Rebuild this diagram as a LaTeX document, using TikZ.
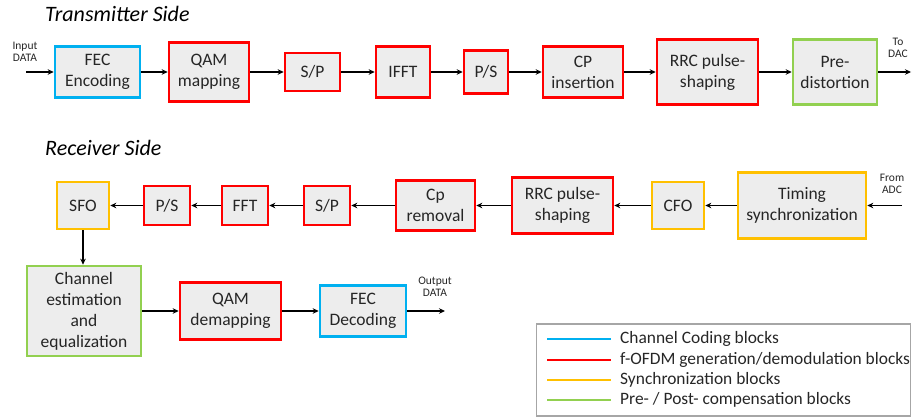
\documentclass[tikz,border=0pt]{standalone}
\usepackage{fontspec}
\setmainfont{Carlito}
\usetikzlibrary{arrows.meta}
\definecolor{cblue}{HTML}{00B0F0}
\definecolor{cred}{HTML}{FF0000}
\definecolor{cyel}{HTML}{FFC000}
\definecolor{cgreen}{HTML}{92D050}
\definecolor{boxfill}{HTML}{EDEDED}
\definecolor{txt}{HTML}{262626}
\tikzset{
  blk/.style={draw, line width=2.6pt, fill=boxfill, align=center, inner sep=0pt,
    font=\fontsize{17.5}{21}\selectfont, text=txt},
  bluebox/.style={blk, draw=cblue},
  redbox/.style={blk, draw=cred},
  yelbox/.style={blk, draw=cyel},
  greenbox/.style={blk, draw=cgreen},
  sz/.style 2 args={minimum width=#1pt, minimum height=#2pt},
  flow/.style={-{Stealth[length=6pt,width=5.5pt]}, line width=1.6pt, black},
  small/.style={font=\fontsize{11.5}{12.5}\selectfont, align=center, text=txt, inner sep=0pt},
  title/.style={font=\fontsize{22}{24}\selectfont\itshape, anchor=west, inner sep=0pt, text=black},
  legtext/.style={font=\fontsize{17.4}{20}\selectfont, anchor=west, inner sep=0pt, text=txt},
  legline/.style={line width=2.8pt}
}
\begin{document}
\begin{tikzpicture}[x=1pt,y=-1pt]
\useasboundingbox (0,0) rectangle (912,417);
% titles
\node[title] (ttx) at (45,14) {Transmitter Side};
\node[title] (trx) at (45,148) {Receiver Side};
% transmitter
\node[bluebox, sz={85}{51}] (fec) at (97.5,72) {FEC\\Encoding};
\node[redbox, sz={80}{59}] (qam) at (209,72) {QAM\\mapping};
\node[redbox, sz={55}{38}] (sp) at (312.5,72) {S/P};
\node[redbox, sz={54}{51}] (ifft) at (403,72) {IFFT};
\node[redbox, sz={44}{43}] (ps) at (486,72) {P/S};
\node[redbox, sz={80}{51}] (cp) at (583,72) {CP\\insertion};
\node[redbox, sz={101}{65}] (rrc) at (707.5,72) {RRC pulse-\\shaping};
\node[greenbox, sz={84}{65}] (pre) at (835,72) {Pre-\\distortion};
\coordinate (tin) at (26,72);
\coordinate (tout) at (911,72);
\node[small] (lin) at (25,52) {Input\\DATA};
\node[small] (lout) at (898,48) {To\\DAC};
\draw[flow] (tin) -- (fec);
\draw[flow] (fec) -- (qam);
\draw[flow] (qam) -- (sp);
\draw[flow] (sp) -- (ifft);
\draw[flow] (ifft) -- (ps);
\draw[flow] (ps) -- (cp);
\draw[flow] (cp) -- (rrc);
\draw[flow] (rrc) -- (pre);
\draw[flow] (pre) -- (tout);
% receiver
\node[yelbox, sz={52}{47}] (sfo) at (83,205.5) {SFO};
\node[redbox, sz={46}{39}] (ps2) at (167,205.5) {P/S};
\node[redbox, sz={46}{39}] (fft) at (245,205.5) {FFT};
\node[redbox, sz={46}{39}] (sp2) at (327,205.5) {S/P};
\node[redbox, sz={79}{50}] (cprem) at (435.5,205.5) {Cp\\removal};
\node[redbox, sz={101}{56}] (rrc2) at (562.5,205.5) {RRC pulse-\\shaping};
\node[yelbox, sz={52}{47}] (cfo) at (678,205.5) {CFO};
\node[yelbox, sz={128}{66}] (tim) at (802,205.5) {Timing\\synchronization};
\coordinate (rin) at (902,205.5);
\node[small] (lrin) at (892,184) {From\\ADC};
\draw[flow] (rin) -- (tim);
\draw[flow] (tim) -- (cfo);
\draw[flow] (cfo) -- (rrc2);
\draw[flow] (rrc2) -- (cprem);
\draw[flow] (cprem) -- (sp2);
\draw[flow] (sp2) -- (fft);
\draw[flow] (fft) -- (ps2);
\draw[flow] (ps2) -- (sfo);
% bottom row
\node[greenbox, sz={114}{90}] (chan) at (84,311) {Channel\\estimation\\and\\equalization};
\node[redbox, sz={101}{57}] (qamd) at (230.5,311) {QAM\\demapping};
\node[bluebox, sz={86}{51}] (fecd) at (363,311) {FEC\\Decoding};
\coordinate (rout) at (445,311);
\node[small] (lrout) at (435,287) {Output\\DATA};
\draw[flow] (sfo) -- (sfo |- chan.north);
\draw[flow] (chan.east |- qamd) -- (qamd);
\draw[flow] (qamd) -- (fecd);
\draw[flow] (fecd) -- (rout);
% legend
\node[draw=gray!70, line width=1.2pt, minimum width=374pt, minimum height=92pt, inner sep=0pt] (leg) at (723.5,370) {};
\coordinate (l1a) at (547,339); \coordinate (l1b) at (611,339);
\coordinate (l2a) at (547,360); \coordinate (l2b) at (611,360);
\coordinate (l3a) at (547,380); \coordinate (l3b) at (611,380);
\coordinate (l4a) at (547,400); \coordinate (l4b) at (611,400);
\draw[legline, cblue] (l1a) -- (l1b);
\draw[legline, cred] (l2a) -- (l2b);
\draw[legline, cyel] (l3a) -- (l3b);
\draw[legline, cgreen] (l4a) -- (l4b);
\node[legtext] (t1) at (620,339) {Channel Coding blocks};
\node[legtext] (t2) at (620,360) {f-OFDM generation/demodulation blocks};
\node[legtext] (t3) at (620,380) {Synchronization blocks};
\node[legtext] (t4) at (620,400) {Pre- / Post- compensation blocks};
\end{tikzpicture}
\end{document}
